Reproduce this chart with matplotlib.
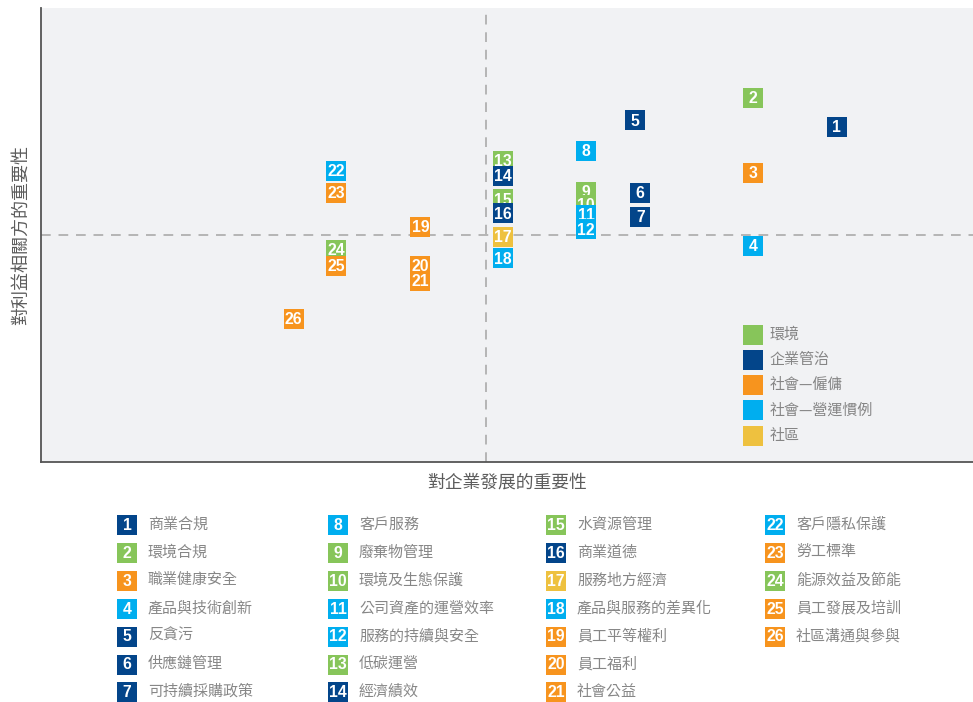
import matplotlib
matplotlib.use('Agg')
import matplotlib.pyplot as plt
from matplotlib.patches import Rectangle

plt.rcParams['font.family'] = ['Noto Sans CJK TC', 'DejaVu Sans']

# ---------------- data ----------------
ids = list(range(1, 27))
topics = ['商業合規', '環境合規', '職業健康安全', '產品與技術創新', '反貪污', '供應鏈管理', '可持續採購政策',
          '客戶服務', '廢棄物管理', '環境及生態保護', '公司資產的運營效率', '服務的持續與安全', '低碳運營', '經濟績效',
          '水資源管理', '商業道德', '服務地方經濟', '產品與服務的差異化', '員工平等權利', '員工福利', '社會公益',
          '客戶隱私保護', '勞工標準', '能源效益及節能', '員工發展及培訓', '社區溝通與參與']
category = ['G', 'E', 'L', 'O', 'G', 'G', 'G', 'O', 'E', 'E', 'O', 'O', 'E', 'G',
            'E', 'G', 'C', 'O', 'L', 'L', 'L', 'O', 'L', 'E', 'L', 'L']
business_importance = [8.54, 7.64, 7.64, 7.64, 6.37, 6.43, 6.43, 5.85, 5.85, 5.85, 5.85, 5.85, 4.96, 4.96,
                       4.96, 4.96, 4.96, 4.96, 4.07, 4.07, 4.07, 3.17, 3.17, 3.17, 3.17, 2.71]
stakeholder_importance = [7.38, 8.02, 6.37, 4.76, 7.53, 5.93, 5.40, 6.85, 5.95, 5.66, 5.44, 5.13, 6.63, 6.30,
                          5.79, 5.48, 4.96, 4.49, 5.18, 4.32, 3.99, 6.41, 5.93, 4.67, 4.32, 3.15]
threshold_x = 4.77
threshold_y = 5.0

cat_keys = ['E', 'G', 'L', 'O', 'C']
cat_labels = ['環境', '企業管治', '社會—僱傭', '社會—營運慣例', '社區']
cat_colors = {'E': '#87c55a', 'G': '#03458a', 'L': '#f7941e', 'O': '#00aeef', 'C': '#eec13f'}

# ---------------- figure ----------------
W, H = 973, 702
fig = plt.figure(figsize=(W / 100, H / 100), dpi=100)
fig.patch.set_facecolor('white')

ax = fig.add_axes([41 / W, 1 - 462 / H, 932 / W, 454 / H])
ax.set_facecolor('#f1f2f4')
ax.set_xlim(0, 10)
ax.set_ylim(0, 10)
ax.set_xticks([])
ax.set_yticks([])
for s in ['top', 'right']:
    ax.spines[s].set_visible(False)
for s in ['left', 'bottom']:
    ax.spines[s].set_color('#555555')
    ax.spines[s].set_linewidth(1.3)

ax.axvline(threshold_x, color='#b5b5b5', lw=1.4, ls=(0, (5, 4)), zorder=1)
ax.axhline(threshold_y, color='#b5b5b5', lw=1.4, ls=(0, (5, 4)), zorder=1)

num_font = ['Liberation Sans', 'DejaVu Sans']
for i, (x, y, c) in enumerate(zip(business_importance, stakeholder_importance, category)):
    ax.scatter([x], [y], marker='s', s=14.4 ** 2, color=cat_colors[c], linewidths=0, zorder=10 + 2 * i)
    ax.text(x, y - 0.02, str(ids[i]), color='white', fontsize=11.3, fontweight='bold',
            family=num_font, ha='center', va='center', zorder=11 + 2 * i)

# in-chart legend
lx_box, lx_txt, ly0, lstep = 0.764, 0.782, 0.280, 0.0555
for k, key in enumerate(cat_keys):
    yy = ly0 - k * lstep
    ax.scatter([lx_box], [yy], transform=ax.transAxes, marker='s', s=14.4 ** 2,
               color=cat_colors[key], linewidths=0, zorder=100)
    ax.text(lx_txt, yy, cat_labels[k], transform=ax.transAxes, color='#858585',
            fontsize=10.8, ha='left', va='center', zorder=100)

ax.set_xlabel('對企業發展的重要性', color='#5c5c5c', fontsize=12.8, labelpad=8.5)
ax.set_ylabel('對利益相關方的重要性', color='#5c5c5c', fontsize=13, labelpad=8)

# bottom list
col_x = [127, 338, 556, 775]
row_y0, row_step = 525, 27.9
for i, num in enumerate(ids):
    col, row = i // 7, i % 7
    cx = col_x[col]
    cy = row_y0 + row * row_step
    fig.patches.append(Rectangle(((cx - 10) / W, 1 - (cy + 10) / H), 20 / W, 20 / H,
                                 transform=fig.transFigure, facecolor=cat_colors[category[i]],
                                 edgecolor='none'))
    fig.text(cx / W, 1 - (cy + 0.3) / H, str(num), color='white', fontsize=11.3, fontweight='bold',
             family=num_font, ha='center', va='center')
    fig.text((cx + 21) / W, 1 - (cy - 0.5) / H, topics[i], color='#878787', fontsize=10.8,
             ha='left', va='center')

fig.savefig('out.png', dpi=100)
